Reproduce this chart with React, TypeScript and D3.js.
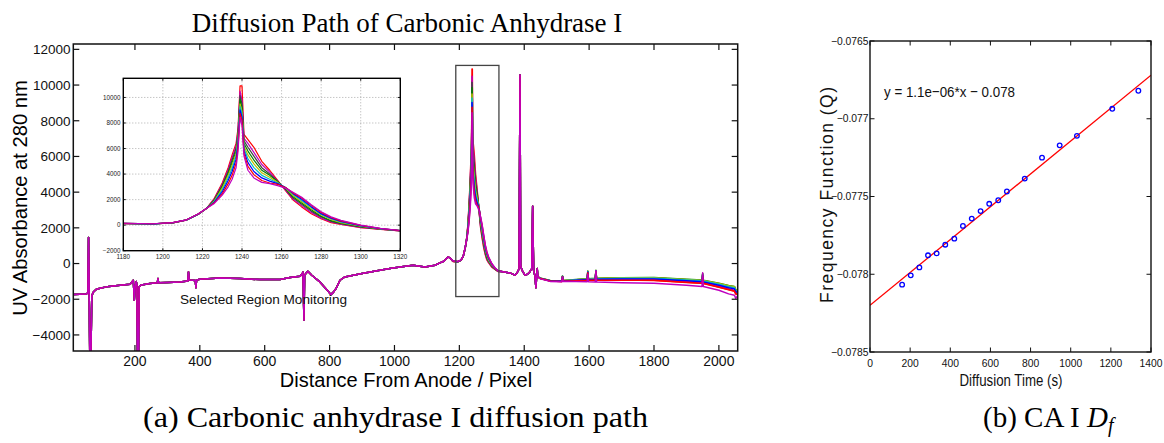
import React from "react";
import * as d3 from "d3";

// ---------- Main chart data (UV absorbance traces) ----------
// draw order / colours of the monitored spectra
const SERIES_COLORS = ["#ff0000", "#bf00bf", "#404040", "#008000", "#bfbf00", "#00bfbf", "#0000ff", "#ff0000", "#bf00bf"];

// shared part of the traces before the selected region [pixel, absorbance]
const LEFT_BASE: [number, number][] = [
  [10, -1740], [30, -1720], [50, -1700], [55, -1650], [57, 1460], [59, -1700], [61, -5600], [64, -5600], [67, -1800],
  [72, -1600], [80, -1450], [92, -1380], [120, -1280], [154, -1220], [185, -1160], [195, -940], [198, -2060], [201, -1250],
  [204, -1000], [206, -1200], [208, -5600], [211, -5600], [213, -1300], [220, -1200], [246, -1120], [269, -1080], [271, -840],
  [273, -1080], [300, -1060], [339, -1030], [363, -980], [365, -470], [367, -920], [386, -950], [388, -1350], [390, -920],
  [400, -880], [462, -805], [524, -840], [585, -900], [647, -900], [678, -785], [709, -710], [716, -560], [718, -470],
  [721, -3170], [723, -650], [727, -560], [733, -430], [745, -656], [770, -1030], [795, -1535], [804, -1740], [812, -1600],
  [820, -1400], [832, -936], [847, -750], [900, -560], [955, -375], [986, -280], [1017, -190], [1057, -95], [1094, -190],
  [1125, -95], [1140, 40], [1152, 130], [1165, 370], [1172, 300],
];

// selected region (per spectrum)
const PEAK_X = [1180, 1195, 1205, 1212, 1218, 1222, 1226, 1230, 1233, 1235, 1237, 1238, 1239, 1240, 1241, 1243, 1246, 1250, 1254, 1258, 1262, 1266, 1270, 1275, 1280, 1285, 1290, 1300, 1310, 1320];
const PEAK_Y: number[][] = [
  [120, 90, 180, 400, 850, 1300, 2100, 3300, 4500, 5500, 6400, 7600, 10900, 10900, 7100, 6700, 6100, 5000, 4300, 3500, 2700, 1950, 1450, 900, 500, 200, 50, -200, -330, -450],
  [125, 95, 180, 400, 860, 1300, 2050, 3200, 4350, 5300, 6200, 7400, 10500, 9800, 6800, 6400, 5700, 4750, 4150, 3450, 2750, 2000, 1550, 1000, 550, 250, 80, -170, -320, -445],
  [130, 95, 185, 405, 860, 1300, 2000, 3100, 4200, 5100, 6000, 7200, 10150, 9500, 6600, 6100, 5400, 4500, 4000, 3450, 2800, 2100, 1650, 1100, 650, 300, 120, -140, -310, -440],
  [130, 100, 185, 410, 870, 1300, 1950, 3000, 4050, 4900, 5800, 7000, 9850, 9200, 6400, 5800, 5100, 4300, 3900, 3400, 2850, 2200, 1750, 1200, 700, 350, 160, -110, -300, -435],
  [135, 100, 190, 410, 875, 1300, 1900, 2900, 3900, 4700, 5600, 6800, 9500, 8900, 6200, 5500, 4800, 4100, 3750, 3350, 2900, 2300, 1850, 1300, 800, 450, 200, -80, -290, -430],
  [140, 105, 190, 415, 880, 1300, 1850, 2750, 3700, 4450, 5400, 6600, 9280, 8700, 6000, 5200, 4500, 3900, 3600, 3300, 2950, 2400, 1950, 1400, 850, 500, 250, -60, -280, -430],
  [140, 105, 195, 415, 885, 1300, 1800, 2600, 3500, 4200, 5150, 6400, 9020, 8450, 5800, 4900, 4200, 3700, 3450, 3250, 2950, 2450, 2050, 1450, 900, 550, 300, -40, -270, -425],
  [145, 110, 195, 420, 890, 1300, 1750, 2450, 3250, 3900, 4850, 6100, 8760, 8200, 5600, 4600, 3950, 3500, 3300, 3200, 2950, 2500, 2150, 1550, 1000, 600, 340, -20, -260, -425],
  [150, 110, 200, 420, 900, 1300, 1700, 2350, 3000, 3600, 4500, 5800, 8450, 7800, 5400, 4300, 3700, 3350, 3250, 3100, 2900, 2550, 2200, 1600, 1050, 650, 380, 0, -250, -420],
];

// shared part after the selected region
const MID_BASE: [number, number][] = [
  [1325, -430], [1356, -525], [1371, -650], [1377, -560], [1384, -300], [1387, 10560], [1389, -100], [1393, -375],
  [1402, -650], [1410, -600], [1417, -470], [1423, -300], [1426, 3210], [1429, -400], [1433, -700], [1436, -1350],
  [1438, -800], [1440, -280], [1442, -750],
];

// tail (per spectrum)
const TAIL_X = [1450, 1480, 1516, 1518, 1520, 1560, 1594, 1596, 1598, 1619, 1621, 1623, 1700, 1800, 1900, 1948, 1950, 1952, 2000, 2030, 2048, 2052, 2058];
const TAIL_Y: number[][] = [
  [-840, -980, -1000, -740, -990, -960, -930, -500, -930, -920, -440, -920, -920, -950, -1060, -1110, -700, -1120, -1330, -1470, -1560, -1700, -1720],
  [-835, -975, -990, -730, -985, -950, -915, -480, -915, -900, -420, -900, -890, -900, -1010, -1060, -660, -1070, -1270, -1410, -1490, -1640, -1680],
  [-825, -960, -970, -710, -960, -915, -870, -440, -870, -850, -400, -850, -810, -810, -910, -955, -590, -965, -1140, -1270, -1330, -1490, -1540],
  [-820, -950, -960, -700, -950, -900, -850, -420, -850, -830, -380, -830, -790, -785, -880, -920, -560, -930, -1100, -1230, -1280, -1450, -1500],
  [-822, -955, -965, -705, -955, -905, -860, -430, -860, -840, -390, -840, -800, -800, -895, -935, -575, -945, -1120, -1250, -1300, -1470, -1520],
  [-828, -960, -975, -715, -965, -920, -880, -460, -880, -865, -405, -865, -830, -825, -925, -970, -600, -980, -1165, -1300, -1360, -1520, -1560],
  [-832, -968, -985, -725, -975, -935, -900, -480, -900, -885, -420, -885, -860, -865, -965, -1020, -640, -1030, -1220, -1360, -1420, -1580, -1610],
  [-840, -980, -1000, -740, -990, -960, -935, -520, -935, -930, -440, -930, -930, -940, -1050, -1100, -690, -1110, -1320, -1460, -1540, -1700, -1700],
  [-860, -1000, -1020, -760, -1010, -1000, -1020, -600, -1020, -1040, -400, -1040, -1080, -1110, -1220, -1280, -520, -1290, -1500, -1700, -1780, -1950, -1800],
];

const MAIN_X_TICKS = [200, 400, 600, 800, 1000, 1200, 1400, 1600, 1800, 2000];
const MAIN_Y_TICKS = [-4000, -2000, 0, 2000, 4000, 6000, 8000, 10000, 12000];
const INSET_X_TICKS = [1180, 1200, 1220, 1240, 1260, 1280, 1300, 1320];
const INSET_Y_TICKS = [-2000, 0, 2000, 4000, 6000, 8000, 10000];
const REGION_BOX = { x0: 1189, x1: 1322, y0: -1850, y1: 11100 };

// ---------- Right chart data ----------
const TIME_S = [160, 203, 246, 289, 332, 375, 420, 463, 507, 551, 594, 639, 682, 771, 857, 945, 1031, 1207, 1337];
const Q_VALUES = [-0.078067, -0.078007, -0.077956, -0.077878, -0.077866, -0.07781, -0.077771, -0.077689, -0.077642, -0.077594,
  -0.077547, -0.077524, -0.077468, -0.077385, -0.07725, -0.077171, -0.07711, -0.076936, -0.07682];
const FIT_SLOPE = 1.057e-6;
const FIT_INTERCEPT = -0.0782;
const FIT_LABEL = "y = 1.1e\u221206*x \u2212 0.078";
const R_X_TICKS = [0, 200, 400, 600, 800, 1000, 1200, 1400];
const R_Y_TICKS = [-0.0785, -0.078, -0.0775, -0.077, -0.0765];
const R_Y_LABELS = ["\u22120.0785", "\u22120.078", "\u22120.0775", "\u22120.077", "\u22120.0765"];

const SANS = "'Liberation Sans', Arial, Helvetica, sans-serif";
const NARROW = "'Liberation Sans Narrow', 'Arial Narrow', 'Liberation Sans', sans-serif";
const SERIF = "'Liberation Serif', 'Times New Roman', serif";

const fmtMinus = (v: number) => (v < 0 ? "\u2212" + Math.abs(v) : String(v));

export default function App() {
  // main chart
  const xM = d3.scaleLinear().domain([10, 2058]).range([73.3, 737.7]);
  const yM = d3.scaleLinear().domain([-4900, 12300]).range([351, 44]);
  // inset
  const xI = d3.scaleLinear().domain([1180, 1320]).range([123.3, 400.3]);
  const yI = d3.scaleLinear().domain([-2000, 11500]).range([250.7, 78.3]);
  // right chart
  const xR = d3.scaleLinear().domain([0, 1400]).range([870, 1151]);
  const yR = d3.scaleLinear().domain([-0.0785, -0.0765]).range([352, 41]);

  const lineM = d3.line<[number, number]>().x((d) => xM(d[0])).y((d) => yM(d[1]));
  const lineI = d3.line<[number, number]>().x((d) => xI(d[0])).y((d) => yI(d[1]));

  const mainSeries = SERIES_COLORS.map((c, i) => ({
    color: c,
    pts: [
      ...LEFT_BASE,
      ...PEAK_X.map((x, j) => [x, PEAK_Y[i][j]] as [number, number]),
      ...MID_BASE,
      ...TAIL_X.map((x, j) => [x, TAIL_Y[i][j]] as [number, number]),
    ],
  }));
  const insetSeries = SERIES_COLORS.map((c, i) => ({
    color: c,
    pts: PEAK_X.map((x, j) => [x, PEAK_Y[i][j]] as [number, number]),
  }));

  const [mx0, mx1] = xM.range();
  const [my0, my1] = [yM(12300), yM(-4900)];
  const [ix0, ix1] = xI.range();
  const [iy0, iy1] = [yI(11500), yI(-2000)];
  const [rx0, rx1] = xR.range();
  const [ry0, ry1] = [yR(-0.0765), yR(-0.0785)];

  return (
    <svg width={1164} height={443} style={{ position: "absolute", left: 0, top: 0, background: "#fff" }}>
      <defs>
        <clipPath id="clipMain">
          <rect x={mx0} y={my0} width={mx1 - mx0} height={my1 - my0} />
        </clipPath>
        <clipPath id="clipInset">
          <rect x={ix0} y={iy0} width={ix1 - ix0} height={iy1 - iy0} />
        </clipPath>
        <clipPath id="clipR">
          <rect x={rx0} y={ry0} width={rx1 - rx0} height={ry1 - ry0} />
        </clipPath>
      </defs>
      <rect x={0} y={0} width={1164} height={443} fill="#fff" />

      {/* ---------- main chart ---------- */}
      <text x={407} y={31.5} textAnchor="middle" fontFamily={SERIF} fontSize={27} fill="#000">
        Diffusion Path of Carbonic Anhydrase I
      </text>
      <g clipPath="url(#clipMain)">
        {mainSeries.map((s, i) => (
          <path key={i} d={lineM(s.pts) || ""} fill="none" stroke={s.color} strokeWidth={1.5} strokeLinejoin="round" />
        ))}
      </g>
      <rect x={mx0} y={my0} width={mx1 - mx0} height={my1 - my0} fill="none" stroke="#111" strokeWidth={1.5} />
      {MAIN_X_TICKS.map((t) => (
        <g key={"mx" + t}>
          <line x1={xM(t)} x2={xM(t)} y1={my1} y2={my1 - 6} stroke="#111" strokeWidth={1.2} />
          <line x1={xM(t)} x2={xM(t)} y1={my0} y2={my0 + 6} stroke="#111" strokeWidth={1.2} />
          <text x={xM(t)} y={365.5} textAnchor="middle" fontFamily={SANS} fontSize={14} fill="#111">
            {t}
          </text>
        </g>
      ))}
      {MAIN_Y_TICKS.map((t) => (
        <g key={"my" + t}>
          <line x1={mx0} x2={mx0 + 6} y1={yM(t)} y2={yM(t)} stroke="#111" strokeWidth={1.2} />
          <line x1={mx1} x2={mx1 - 6} y1={yM(t)} y2={yM(t)} stroke="#111" strokeWidth={1.2} />
          <text x={70.5} y={yM(t)} dy="0.36em" textAnchor="end" fontFamily={SANS} fontSize={13.5} fill="#111">
            {fmtMinus(t)}
          </text>
        </g>
      ))}
      <text x={406} y={386.5} textAnchor="middle" fontFamily={SANS} fontSize={20} fill="#000">
        Distance From Anode / Pixel
      </text>
      <text transform="translate(27,198) rotate(-90)" textAnchor="middle" fontFamily={SANS} fontSize={20.2} fill="#000">
        UV Absorbance at 280 nm
      </text>

      {/* selected region box */}
      <rect
        x={xM(REGION_BOX.x0)}
        y={yM(REGION_BOX.y1)}
        width={xM(REGION_BOX.x1) - xM(REGION_BOX.x0)}
        height={yM(REGION_BOX.y0) - yM(REGION_BOX.y1)}
        fill="none"
        stroke="#444"
        strokeWidth={1.3}
      />

      {/* ---------- inset ---------- */}
      <rect x={ix0} y={iy0} width={ix1 - ix0} height={iy1 - iy0} fill="#fff" />
      {INSET_X_TICKS.slice(1, -1).map((t) => (
        <line key={"igx" + t} x1={xI(t)} x2={xI(t)} y1={iy0} y2={iy1} stroke="#999" strokeWidth={0.8} strokeDasharray="1,2" />
      ))}
      {INSET_Y_TICKS.slice(1).map((t) => (
        <line key={"igy" + t} x1={ix0} x2={ix1} y1={yI(t)} y2={yI(t)} stroke="#999" strokeWidth={0.8} strokeDasharray="1,2" />
      ))}
      <g clipPath="url(#clipInset)">
        {insetSeries.map((s, i) => (
          <path key={i} d={lineI(s.pts) || ""} fill="none" stroke={s.color} strokeWidth={1.2} strokeLinejoin="round" />
        ))}
      </g>
      <rect x={ix0} y={iy0} width={ix1 - ix0} height={iy1 - iy0} fill="none" stroke="#000" strokeWidth={1.4} />
      {INSET_X_TICKS.map((t) => (
        <g key={"ix" + t}>
          <line x1={xI(t)} x2={xI(t)} y1={iy1} y2={iy1 - 2.5} stroke="#000" strokeWidth={0.9} />
          <line x1={xI(t)} x2={xI(t)} y1={iy0} y2={iy0 + 2.5} stroke="#000" strokeWidth={0.9} />
          <text x={xI(t)} y={258.5} textAnchor="middle" fontFamily={SANS} fontSize={6.3} fill="#222">
            {t}
          </text>
        </g>
      ))}
      {INSET_Y_TICKS.map((t) => (
        <g key={"iy" + t}>
          <line x1={ix0} x2={ix0 + 2.5} y1={yI(t)} y2={yI(t)} stroke="#000" strokeWidth={0.9} />
          <line x1={ix1} x2={ix1 - 2.5} y1={yI(t)} y2={yI(t)} stroke="#000" strokeWidth={0.9} />
          <text x={120.5} y={yI(t)} dy="0.36em" textAnchor="end" fontFamily={SANS} fontSize={6.3} fill="#222">
            {fmtMinus(t)}
          </text>
        </g>
      ))}
      <text x={180} y={304} fontFamily={SANS} fontSize={13.6} fill="#111">
        Selected Region Monitoring
      </text>

      {/* ---------- right chart ---------- */}
      <g clipPath="url(#clipR)">
        <line
          x1={xR(0)}
          y1={yR(FIT_INTERCEPT)}
          x2={xR(1400)}
          y2={yR(FIT_INTERCEPT + FIT_SLOPE * 1400)}
          stroke="#ff0000"
          strokeWidth={1.3}
        />
        {TIME_S.map((t, i) => (
          <circle key={i} cx={xR(t)} cy={yR(Q_VALUES[i])} r={2.3} fill="none" stroke="#0000ff" strokeWidth={1.3} />
        ))}
      </g>
      <rect x={rx0} y={ry0} width={rx1 - rx0} height={ry1 - ry0} fill="none" stroke="#111" strokeWidth={1.4} />
      {R_X_TICKS.map((t) => (
        <g key={"rx" + t}>
          <line x1={xR(t)} x2={xR(t)} y1={ry1} y2={ry1 - 4.5} stroke="#111" strokeWidth={1} />
          <line x1={xR(t)} x2={xR(t)} y1={ry0} y2={ry0 + 4.5} stroke="#111" strokeWidth={1} />
          <text x={xR(t)} y={366.7} textAnchor="middle" fontFamily={NARROW} fontSize={10.3} fill="#111">
            {t}
          </text>
        </g>
      ))}
      {R_Y_TICKS.map((t, i) => (
        <g key={"ry" + t}>
          <line x1={rx0} x2={rx0 + 4.5} y1={yR(t)} y2={yR(t)} stroke="#111" strokeWidth={1} />
          <line x1={rx1} x2={rx1 - 4.5} y1={yR(t)} y2={yR(t)} stroke="#111" strokeWidth={1} />
          <text x={868.5} y={yR(t)} dy="0.36em" textAnchor="end" fontFamily={NARROW} fontSize={10.3} fill="#111">
            {R_Y_LABELS[i]}
          </text>
        </g>
      ))}
      <text x={884} y={97.3} fontFamily={SANS} fontSize={15.5} textLength={131} lengthAdjust="spacingAndGlyphs" fill="#111">
        {FIT_LABEL}
      </text>
      <text x={1011} y={386} textAnchor="middle" fontFamily={SANS} fontSize={16} textLength={103} lengthAdjust="spacingAndGlyphs" fill="#111">
        Diffusion Time (s)
      </text>
      <text
        transform="translate(833.3,195) rotate(-90)"
        textAnchor="middle"
        fontFamily={SANS}
        fontSize={17.5}
        textLength={216}
        lengthAdjust="spacing"
        fill="#111"
      >
        Frequency Function (Q)
      </text>

      {/* ---------- captions ---------- */}
      <text x={395.5} y={427} textAnchor="middle" fontFamily={SERIF} fontSize={29} textLength={505} lengthAdjust="spacingAndGlyphs" fill="#000">
        (a) Carbonic anhydrase I diffusion path
      </text>
      <text x={983} y={427} fontFamily={SERIF} fontSize={29} fill="#000">
        <tspan>(b) CA I </tspan>
        <tspan fontStyle="italic">D</tspan>
        <tspan fontStyle="italic" fontSize={20} dy={5}>
          f
        </tspan>
      </text>
    </svg>
  );
}
